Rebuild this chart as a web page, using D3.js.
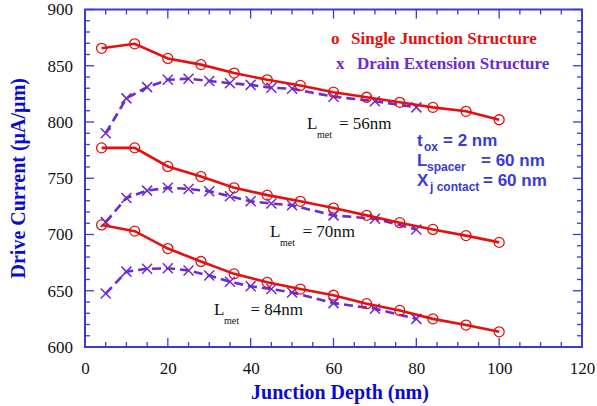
<!DOCTYPE html>
<html>
<head>
<meta charset="utf-8">
<script src="https://cdn.jsdelivr.net/npm/d3@7"></script>
<style>
  body { margin: 0; background: #fff; }
  text { font-family: "Liberation Serif", "Times New Roman", serif; }
</style>
</head>
<body>
<div class="canvas"></div>
<script>
// data
const singleX = [4, 12, 20, 28, 36, 44, 52, 60, 68, 76, 84, 92, 100];
const drainX = [5, 10, 15, 20, 25, 30, 35, 40, 45, 50, 60, 70, 80];

const single56 = [865.5, 869.5, 856.5, 851, 843.5, 837.5, 832.5, 826.5, 822, 817.5, 813, 809.5, 802];
const drain56 = [790, 821, 831, 837.5, 838.5, 836.5, 834.5, 833, 830.5, 829.5, 822.5, 818.5, 813];
const single70 = [777, 777, 760.5, 751.5, 741.5, 735, 729.5, 723.5, 717, 710.5, 704.5, 699, 693];
const drain70 = [711, 732.5, 739, 741.5, 740.5, 738.5, 734, 729.5, 727.5, 726, 717, 714, 704.5];
const single84 = [708.5, 703, 687.5, 676, 665, 657.5, 651.5, 646, 638.5, 632.5, 625, 619.5, 613.5];
const drain84 = [647.5, 667, 669.5, 670, 668, 663.5, 658, 654, 651.5, 648.5, 639, 634, 625];

const xTicks = [0, 20, 40, 60, 80, 100, 120];
const yTicks = [600, 650, 700, 750, 800, 850, 900];

const lmetValues = ["56nm", "70nm", "84nm"];

const red = "#e41010";
const purple = "#6a2ad8";
const axisBlue = "#3a3ad6";
const titleBlue = "#0a0ad0";

const margin = { top: 9.5, right: 15, bottom: 59, left: 85 };
const width = 597;
const height = 406;
const graphWidth = width - margin.left - margin.right;
const graphHeight = height - margin.top - margin.bottom;

const svg = d3
  .select(".canvas")
  .append("svg")
  .attr("width", width)
  .attr("height", height);

const graph = svg
  .append("g")
  .attr("transform", `translate(${margin.left}, ${margin.top})`);

// scales
const x = d3.scaleLinear().domain([0, 120]).range([0, graphWidth]);
const y = d3.scaleLinear().domain([600, 900]).range([graphHeight, 0]);

// ticks (inward) on all four sides
const minorX = d3.range(0, 121, 5);
const minorY = d3.range(600, 901, 10);

const tickGroup = graph.append("g").attr("stroke", axisBlue).attr("stroke-width", 1.3);

minorX.forEach((v) => {
  const len = v % 20 === 0 ? 9 : 5;
  tickGroup.append("line").attr("x1", x(v)).attr("x2", x(v)).attr("y1", graphHeight).attr("y2", graphHeight - len);
  tickGroup.append("line").attr("x1", x(v)).attr("x2", x(v)).attr("y1", 0).attr("y2", len);
});
minorY.forEach((v) => {
  const len = v % 50 === 0 ? 9 : 5;
  tickGroup.append("line").attr("x1", 0).attr("x2", len).attr("y1", y(v)).attr("y2", y(v));
  tickGroup.append("line").attr("x1", graphWidth).attr("x2", graphWidth - len).attr("y1", y(v)).attr("y2", y(v));
});

// frame
graph
  .append("rect")
  .attr("width", graphWidth)
  .attr("height", graphHeight)
  .attr("fill", "none")
  .attr("stroke", axisBlue)
  .attr("stroke-width", 2);

// tick labels
const xAxis = d3.axisBottom(x).tickValues(xTicks).tickSize(0).tickPadding(15);
const yAxis = d3.axisLeft(y).tickValues(yTicks).tickSize(0).tickPadding(12);

const xAxisGroup = graph.append("g").attr("transform", `translate(0, ${graphHeight})`).call(xAxis);
const yAxisGroup = graph.append("g").call(yAxis);

[xAxisGroup, yAxisGroup].forEach((g) => {
  g.select(".domain").remove();
  g.selectAll("text")
    .attr("fill", "#111")
    .style("font-family", "'Liberation Serif', serif")
    .style("font-size", "17px");
});

// series
const series = [
  { xs: drainX, ys: drain56, kind: "drain" },
  { xs: drainX, ys: drain70, kind: "drain" },
  { xs: drainX, ys: drain84, kind: "drain" },
  { xs: singleX, ys: single56, kind: "single" },
  { xs: singleX, ys: single70, kind: "single" },
  { xs: singleX, ys: single84, kind: "single" }
];

const line = d3
  .line()
  .x((d) => x(d[0]))
  .y((d) => y(d[1]));

series.forEach((s) => {
  const pts = s.xs.map((v, i) => [v, s.ys[i]]);
  const g = graph.append("g");
  if (s.kind === "single") {
    g.append("path")
      .datum(pts)
      .attr("d", line)
      .attr("fill", "none")
      .attr("stroke", red)
      .attr("stroke-width", 2.6);
    g.selectAll("circle")
      .data(pts)
      .enter()
      .append("circle")
      .attr("cx", (d) => x(d[0]))
      .attr("cy", (d) => y(d[1]))
      .attr("r", 5)
      .attr("fill", "none")
      .attr("stroke", red)
      .attr("stroke-width", 1.3);
  } else {
    g.append("path")
      .datum(pts)
      .attr("d", line)
      .attr("fill", "none")
      .attr("stroke", purple)
      .attr("stroke-width", 2.6)
      .attr("stroke-dasharray", "9,5");
    const s2 = 5;
    pts.forEach((d) => {
      const cx = x(d[0]);
      const cy = y(d[1]);
      g.append("path")
        .attr("d", `M${cx - s2},${cy - s2}L${cx + s2},${cy + s2}M${cx - s2},${cy + s2}L${cx + s2},${cy - s2}`)
        .attr("stroke", purple)
        .attr("stroke-width", 1.5);
    });
  }
});

// legend
const legend = svg.append("g").style("font-weight", "bold").style("font-size", "17px");
legend.append("text").attr("x", 331).attr("y", 43.5).attr("fill", red).text("o");
legend.append("text").attr("x", 351).attr("y", 43.5).attr("fill", red).text("Single Junction Structure");
legend.append("text").attr("x", 336).attr("y", 68.5).attr("fill", purple).text("x");
legend.append("text").attr("x", 357).attr("y", 68.5).attr("fill", purple).text("Drain Extension Structure");

// L_met labels
const lmetPos = [
  { x: 307, y: 129, eq: 339 },
  { x: 270, y: 237, eq: 302.5 },
  { x: 214, y: 315, eq: 250.5 }
];
lmetValues.forEach((v, i) => {
  const p = lmetPos[i];
  const t = svg.append("text").attr("y", p.y).attr("fill", "#111").style("font-size", "17px");
  t.append("tspan").attr("x", p.x).text("L");
  t.append("tspan").attr("x", p.x + 10).attr("dy", 9).style("font-size", "10px").text("met");
  t.append("tspan").attr("x", p.eq).attr("dy", -9).text("= " + v);
});

// parameter block
const params = svg
  .append("text")
  .attr("fill", axisBlue)
  .style("font-family", "'Liberation Sans', Arial, sans-serif")
  .style("font-weight", "bold")
  .style("font-size", "17px");

params.append("tspan").attr("x", 417).attr("y", 146).text("t");
params.append("tspan").attr("x", 424).attr("dy", 5).style("font-size", "12px").text("ox");
params.append("tspan").attr("x", 443).attr("dy", -5).text("= 2 nm");

params.append("tspan").attr("x", 417).attr("y", 166).text("L");
params.append("tspan").attr("x", 427).attr("dy", 5).style("font-size", "12px").text("spacer");
params.append("tspan").attr("x", 481).attr("dy", -5).text("= 60 nm");

params.append("tspan").attr("x", 417).attr("y", 186).text("X");
params.append("tspan").attr("x", 430).attr("dy", 5).style("font-size", "12px").text("j contact");
params.append("tspan").attr("x", 483).attr("dy", -5).text("= 60 nm");

// axis titles
svg
  .append("text")
  .attr("x", 340)
  .attr("y", 399)
  .attr("text-anchor", "middle")
  .attr("fill", titleBlue)
  .style("font-weight", "bold")
  .style("font-size", "20px")
  .text("Junction Depth (nm)");

svg
  .append("text")
  .attr("transform", `translate(25, ${margin.top + graphHeight / 2}) rotate(-90)`)
  .attr("text-anchor", "middle")
  .attr("fill", titleBlue)
  .style("font-weight", "bold")
  .style("font-size", "20px")
  .text("Drive Current (\u00b5A/\u00b5m)");
</script>
</body>
</html>
